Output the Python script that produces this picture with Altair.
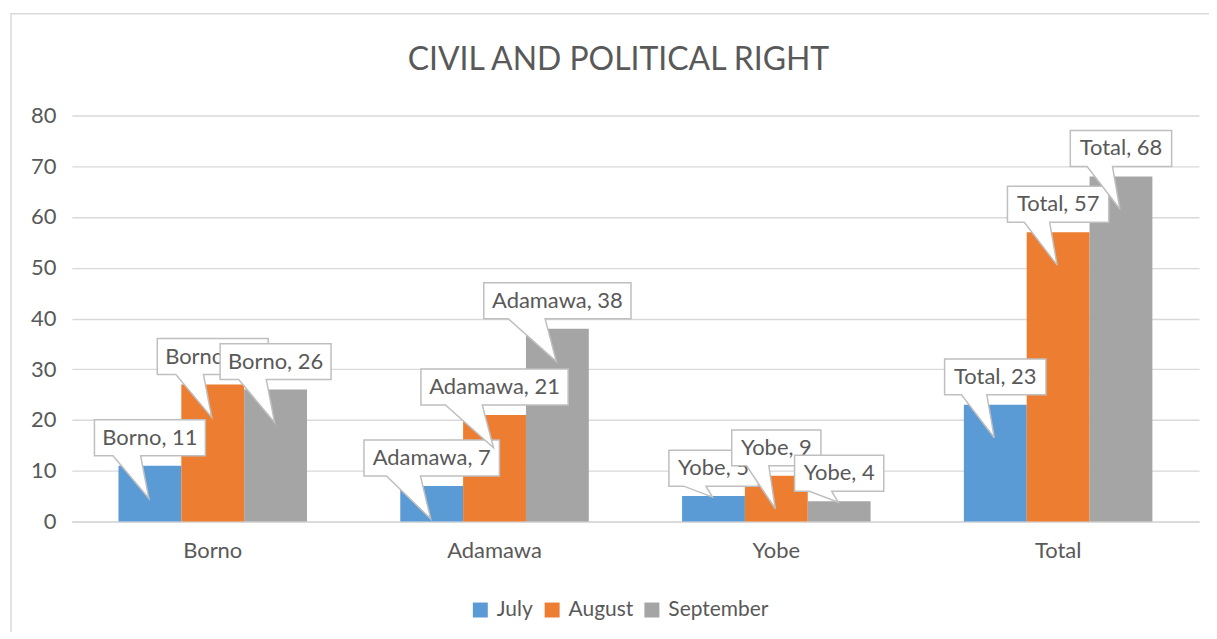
import altair as alt
import pandas as pd

# ---- data ----
categories = ["Borno", "Adamawa", "Yobe", "Total"]
months = ["July", "August", "September"]
july = [11, 7, 5, 23]
august = [27, 21, 9, 57]
september = [26, 38, 4, 68]
colors = ["#5B9BD5", "#ED7D31", "#A5A5A5"]
y_ticks = [0, 10, 20, 30, 40, 50, 60, 70, 80]
title_text = "CIVIL AND POLITICAL RIGHT"

# ---- styling ----
FONT = "Lato"
TEXT = "#595959"
GRID = "#D9D9D9"
FS = 22
PLOT_W, PLOT_H = 1130, 407
PX_PER_UNIT = PLOT_H / 80.0

# approximate Calibri advance widths (em) to size the callout boxes
CW = {"A": .579, "B": .544, "T": .487, "Y": .487, "a": .479, "b": .525, "d": .525,
      "e": .498, "l": .229, "m": .799, "n": .525, "o": .527, "r": .349, "t": .335,
      "w": .715, ",": .250, " ": .226}


def text_width(s, size=23):
    return sum(CW.get(ch, .507) for ch in s) * size


def callout_path(w, depth):
    """Callout (box + wedge tail) in pixel units relative to the bar top."""
    top, bot = -46, -10
    return (f"M{-w/2:.1f},{top}L{w/2:.1f},{top}L{w/2:.1f},{bot}"
            f"L{-w/12:.1f},{bot}L-1,{depth}L{-w/3:.1f},{bot}L{-w/2:.1f},{bot}Z")


rows = []
for m, vals in zip(months, [july, august, september]):
    for c, v in zip(categories, vals):
        label = f"{c}, {v}"
        w = text_width(label) + 20
        depth = 33 if v * PX_PER_UNIT > 33 else 1
        rows.append({"category": c, "month": m, "value": v,
                     "label": label, "shape": callout_path(w, depth)})
df = pd.DataFrame(rows)

x_enc = alt.X("category:N", sort=categories,
              scale=alt.Scale(paddingInner=0.331, paddingOuter=0.1655),
              axis=alt.Axis(title=None, labelAngle=0, ticks=False, domain=True,
                            domainColor=GRID, domainWidth=1.3, labelPadding=19,
                            labelFontSize=FS, labelFont=FONT, labelColor=TEXT))
xo_enc = alt.XOffset("month:N", sort=months,
                     scale=alt.Scale(domain=months, paddingInner=0, paddingOuter=0))
y_enc = alt.Y("value:Q", scale=alt.Scale(domain=[0, 80], nice=False),
              axis=alt.Axis(title=None, values=y_ticks, ticks=False, domain=False,
                            grid=True, gridColor=GRID, gridWidth=1.3,
                            labelPadding=16, labelFontSize=FS, labelFont=FONT,
                            labelColor=TEXT))

base = alt.Chart(df).encode(x=x_enc, xOffset=xo_enc, y=y_enc)

bars = base.mark_bar().encode(
    color=alt.Color("month:N", sort=months,
                    scale=alt.Scale(domain=months, range=colors),
                    legend=alt.Legend(title=None, orient="none", legendX=399,
                                      legendY=485, direction="horizontal",
                                      symbolType="square", symbolSize=225,
                                      symbolStrokeWidth=0, labelFontSize=21,
                                      labelFont=FONT, labelColor=TEXT,
                                      columnPadding=8, labelOffset=6))
)

layers = []
frame = alt.Chart(pd.DataFrame({"k": [0]})).mark_rect(
    fillOpacity=0, stroke=GRID, strokeWidth=1.5
).encode(x=alt.value(-61), x2=alt.value(1400), y=alt.value(-102), y2=alt.value(700))
layers.append(frame)
layers.append(bars)

for m in months:
    sub = base.transform_filter(alt.datum.month == m)
    box = sub.mark_point(filled=True, fill="white", stroke="#BFBFBF",
                         strokeWidth=1.5, opacity=1, size=4).encode(
        shape=alt.Shape("shape:N", scale=None))
    txt = sub.mark_text(font=FONT, fontSize=FS, color=TEXT, baseline="middle",
                        align="center", dy=-28).encode(text="label:N")
    layers += [box, txt]

chart = alt.layer(*layers).properties(
    width=PLOT_W, height=PLOT_H,
    title=alt.TitleParams(title_text, font=FONT, fontSize=32, fontWeight="normal",
                          color=TEXT, anchor="middle", frame="group", dx=-17,
                          baseline="alphabetic", offset=-89),
    autosize=alt.AutoSizeParams(type="none"),
    padding={"left": 64, "top": 107, "right": 10, "bottom": 110},
).configure_view(stroke=None)

chart.save("out.html", embed_options={"renderer": "svg", "actions": False})
